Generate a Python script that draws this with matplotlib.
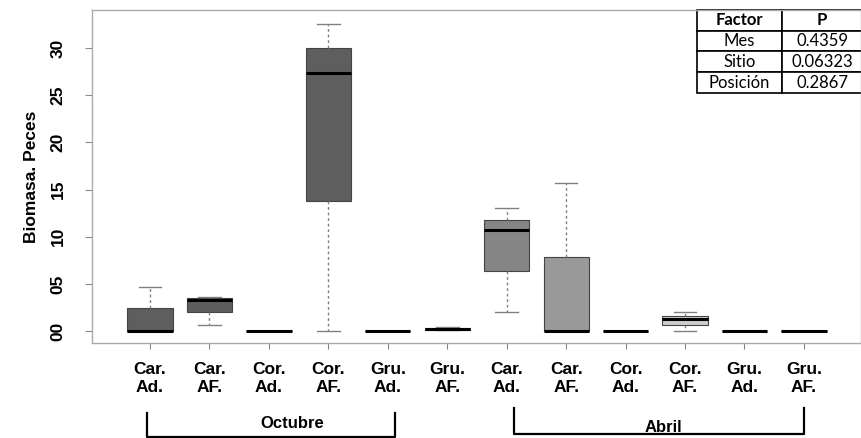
import matplotlib
matplotlib.use("Agg")
import matplotlib.pyplot as plt
import matplotlib.transforms as mtransforms

plt.rcParams['font.family'] = ['Liberation Sans', 'DejaVu Sans']

# ---- data ----
categories = ["Car.\nAd.", "Car.\nAF.", "Cor.\nAd.", "Cor.\nAF.", "Gru.\nAd.", "Gru.\nAF.",
              "Car.\nAd.", "Car.\nAF.", "Cor.\nAd.", "Cor.\nAF.", "Gru.\nAd.", "Gru.\nAF."]
whislo = [0.0, 0.6, 0.0, 0.0, 0.0, 0.1, 2.05, 0.0, 0.0, 0.0, 0.0, 0.0]
q1     = [0.0, 2.0, 0.0, 13.8, 0.0, 0.15, 6.4, 0.0, 0.0, 0.64, 0.0, 0.0]
med    = [0.0, 3.3, 0.0, 27.4, 0.0, 0.25, 10.7, 0.0, 0.0, 1.24, 0.0, 0.0]
q3     = [2.4, 3.5, 0.0, 30.0, 0.0, 0.35, 11.8, 7.9, 0.0, 1.6, 0.0, 0.0]
whishi = [4.67, 3.6, 0.0, 32.6, 0.0, 0.4, 13.1, 15.7, 0.0, 2.05, 0.0, 0.0]
box_colors = ["#5e5e5e"] * 6 + ["#858585", "#999999", "#7a7a7a", "#cdcdcd", "#7a7a7a", "#7a7a7a"]
ytick_vals = [0, 5, 10, 15, 20, 25, 30]
ytick_labels = ["00", "05", "10", "15", "20", "25", "30"]
months = ["Octubre", "Abril"]
table_header = ["Factor", "P"]
table_rows = [["Mes", "0.4359"], ["Sitio", "0.06323"], ["Posición", "0.2867"]]

fig = plt.figure(figsize=(8.62, 4.38), dpi=100)
ax = fig.add_axes([92 / 862, 95 / 438, 769 / 862, 333 / 438])

stats = []
for i in range(len(categories)):
    stats.append(dict(whislo=whislo[i], q1=q1[i], med=med[i], q3=q3[i],
                      whishi=whishi[i], fliers=[], label=categories[i]))
positions = list(range(1, len(categories) + 1))
bp = ax.bxp(stats, positions=positions, widths=0.76, patch_artist=True,
            showfliers=False,
            boxprops=dict(edgecolor="#444444", linewidth=0.8),
            medianprops=dict(color="black", linewidth=2.2),
            whiskerprops=dict(color="#808080", linestyle=(0, (2, 2)), linewidth=1.0),
            capprops=dict(color="#808080", linewidth=1.0),
            capwidths=0.38)
for patch, c in zip(bp['boxes'], box_colors):
    patch.set_facecolor(c)

ax.set_xlim(0.024, 12.96)
ax.set_ylim(-1.27, 34.05)
ax.set_yticks(ytick_vals)
ax.set_yticklabels(ytick_labels, rotation=90, va='center', fontsize=12.5, fontweight='bold')
ax.set_xticks(positions)
ax.set_xticklabels(categories, fontsize=12.5, fontweight='bold', linespacing=1.25)
ax.tick_params(axis='x', length=4, width=0.8, color="#888888", pad=10)
ax.tick_params(axis='y', length=5, width=0.8, color="#888888", pad=14)
for s in ax.spines.values():
    s.set_color("#aaaaaa")
    s.set_linewidth(1.0)
ax.set_ylabel("Biomasa. Peces", fontsize=12.5, fontweight='bold', labelpad=8)

# month brackets
trans = mtransforms.blended_transform_factory(ax.transData, ax.transAxes)
brackets = [(0.95, 5.12, -0.21, -0.283, 3.4, -0.243), (7.12, 12.0, -0.195, -0.274, 9.63, -0.253)]
for (x0, x1, ytop, ybot, xt, yt), name in zip(brackets, months):
    ax.plot([x0, x0, x1, x1], [ytop, ybot, ybot, ytop], color="black", linewidth=1.6,
            transform=trans, clip_on=False)
    ax.text(xt, yt, name, transform=trans, ha='center', va='center',
            fontsize=12, fontweight='bold')

# table
tbl = ax.table(cellText=table_rows, colLabels=table_header,
               bbox=[0.787, 0.751, 0.215, 0.249], colWidths=[0.51, 0.49],
               cellLoc='center')
tbl.auto_set_font_size(False)
for (r, c), cell in tbl.get_celld().items():
    cell.set_edgecolor("black")
    cell.set_linewidth(1.2)
    cell.set_facecolor("white")
    cell.get_text().set_fontfamily(['Lato', 'DejaVu Sans'])
    cell.get_text().set_fontsize(12)
    if r == 0:
        cell.get_text().set_fontweight('bold')

fig.savefig("out.png", dpi=100)
